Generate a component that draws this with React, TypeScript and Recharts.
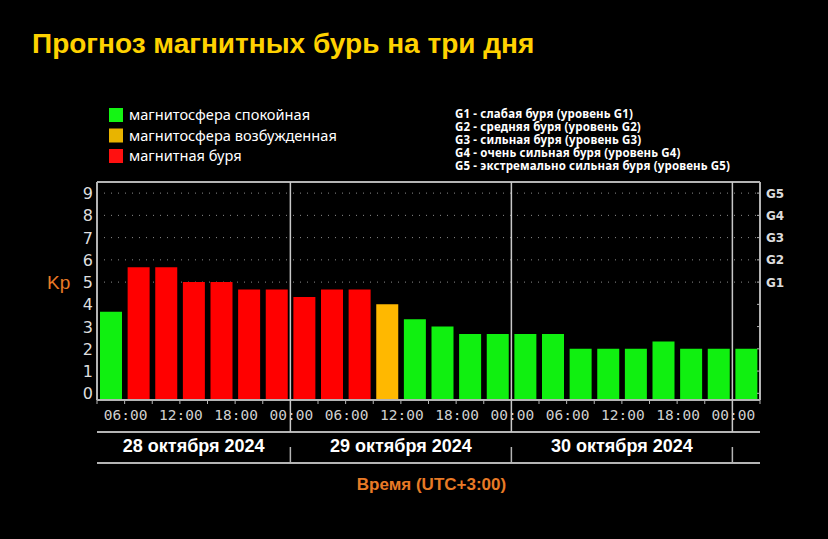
import React from "react";
import { Bar, BarChart, CartesianGrid, Cell, ReferenceLine, XAxis, YAxis } from "recharts";

// 3-hour slots, starting 28.10 03:00 (UTC+3)
const SLOTS = [
  "28.10 03:00", "28.10 06:00", "28.10 09:00", "28.10 12:00", "28.10 15:00", "28.10 18:00", "28.10 21:00",
  "29.10 00:00", "29.10 03:00", "29.10 06:00", "29.10 09:00", "29.10 12:00", "29.10 15:00", "29.10 18:00", "29.10 21:00",
  "30.10 00:00", "30.10 03:00", "30.10 06:00", "30.10 09:00", "30.10 12:00", "30.10 15:00", "30.10 18:00", "30.10 21:00",
  "31.10 00:00"
];
const KP = [
  3.67, 5.67, 5.67, 5.0, 5.0, 4.67, 4.67,
  4.33, 4.67, 4.67, 4.0, 3.33, 3.0, 2.67, 2.67,
  2.67, 2.67, 2.0, 2.0, 2.0, 2.33, 2.0, 2.0,
  2.0
];
const LEVEL = [
  "quiet", "storm", "storm", "storm", "storm", "storm", "storm",
  "storm", "storm", "storm", "active", "quiet", "quiet", "quiet", "quiet",
  "quiet", "quiet", "quiet", "quiet", "quiet", "quiet", "quiet", "quiet",
  "quiet"
];

const KP_TICKS = [0, 1, 2, 3, 4, 5, 6, 7, 8, 9];
const G_TICKS = [5, 6, 7, 8, 9];
const G_LABELS = ["G1", "G2", "G3", "G4", "G5"];

// slot boundaries (index = left edge of slot i) that carry a time label
const LABEL_TICKS = [1, 3, 5, 7, 9, 11, 13, 15, 17, 19, 21, 23];
const LABEL_TEXT = ["06:00", "12:00", "18:00", "00:00", "06:00", "12:00", "18:00", "00:00", "06:00", "12:00", "18:00", "00:00"];
const DAY_TICKS = [7, 15, 23];
const DAYS = ["28 октября 2024", "29 октября 2024", "30 октября 2024"];
const DAY_SPANS = [[0, 7], [7, 15], [15, 23]];

const LEGEND_STATES = ["магнитосфера спокойная", "магнитосфера возбужденная", "магнитная буря"];
const LEGEND_COLORS = ["#14f514", "#e8b400", "#ff1010"];
const G_LEGEND = [
  "G1 - слабая буря (уровень G1)",
  "G2 - средняя буря (уровень G2)",
  "G3 - сильная буря (уровень G3)",
  "G4 - очень сильная буря (уровень G4)",
  "G5 - экстремально сильная буря (уровень G5)"
];

const COLORS: Record<string, string> = { quiet: "#10f010", active: "#ffb800", storm: "#ff0000" };

const W = 828;
const H = 539;
const PLOT_W = 663;
const PLOT_H = 218;
const SLOT_W = PLOT_W / 24;
const KP_MIN = -0.3;
const FRAME = "#b4b4b4";

const rows = SLOTS.map((slot, i) => ({ slot, range: [KP_MIN, KP[i]], level: LEVEL[i] }));

function SlotTick({ x, y, payload }: any) {
  const i = SLOTS.indexOf(payload.value);
  const bx = x - SLOT_W / 2;
  const li = LABEL_TICKS.indexOf(i);
  const isDay = DAY_TICKS.includes(i);
  const di = DAY_SPANS.findIndex(s => s[0] === i);
  return (
    <g>
      {isDay ? (
        <>
          <line x1={bx} y1={y - PLOT_H} x2={bx} y2={y + 32} stroke="#c8c8c8" strokeWidth={1.5} />
          <line x1={bx} y1={y + 47} x2={bx} y2={y + 63} stroke={FRAME} strokeWidth={1.5} />
        </>
      ) : (
        <line x1={bx} y1={y} x2={bx} y2={y + 4} stroke={FRAME} />
      )}
      {i === SLOTS.length - 1 && <line x1={x + SLOT_W / 2} y1={y} x2={x + SLOT_W / 2} y2={y + 4} stroke={FRAME} />}
      {li >= 0 && (
        <text x={bx + 1} y={y + 20} textAnchor="middle" fill="#d0d0d0" fontSize={14.5} fontFamily="DejaVu Sans Mono">
          {LABEL_TEXT[li]}
        </text>
      )}
      {i === 0 && (
        <>
          <line x1={bx} y1={y + 32} x2={bx + PLOT_W} y2={y + 32} stroke={FRAME} strokeWidth={2} />
          <line x1={bx} y1={y + 63} x2={bx + PLOT_W} y2={y + 63} stroke={FRAME} strokeWidth={2} />
        </>
      )}
      {di >= 0 && (
        <text
          x={bx + ((DAY_SPANS[di][1] - DAY_SPANS[di][0]) * SLOT_W) / 2}
          y={y + 52}
          textAnchor="middle"
          fill="#ffffff"
          fontSize={18}
          fontWeight="bold"
          fontFamily="Liberation Sans, Arial, sans-serif"
        >
          {DAYS[di]}
        </text>
      )}
    </g>
  );
}

function KpTick({ x, y, payload }: any) {
  return (
    <text x={x - 4} y={y + 6} textAnchor="end" fill="#dedede" fontSize={16} fontFamily="DejaVu Sans">
      {payload.value}
    </text>
  );
}

function GTick({ x, y, payload }: any) {
  const gi = G_TICKS.indexOf(payload.value);
  return (
    <g>
      <line x1={x - 3} y1={y} x2={x} y2={y} stroke={FRAME} />
      {gi >= 0 && (
        <text x={x + 6} y={y + 4.5} fill="#dcdcdc" fontSize={12} fontWeight="bold" fontFamily="DejaVu Sans">
          {G_LABELS[gi]}
        </text>
      )}
    </g>
  );
}

export default function App() {
  return (
    <div style={{ position: "absolute", left: 0, top: 0, width: W, height: H, background: "#000" }}>
      <BarChart
        width={W}
        height={H}
        data={rows}
        margin={{ top: 182, right: 18, bottom: 109, left: 57 }}
        barSize={22}
      >
        <CartesianGrid
          yAxisId="kp"
          vertical={false}
          horizontalValues={G_TICKS}
          stroke="#8c8c8c"
          strokeDasharray="1 6"
        />
        <XAxis
          dataKey="slot"
          type="category"
          interval={0}
          height={30}
          tickSize={0}
          tickMargin={0}
          tickLine={false}
          axisLine={{ stroke: FRAME, strokeWidth: 2 }}
          tick={(p: any) => <SlotTick {...p} />}
          label={{
            content: ({ viewBox }: any) => (
              <text
                x={viewBox.x + viewBox.width / 2 + 3}
                y={490}
                textAnchor="middle"
                fill="#e87a26"
                fontSize={17}
                fontWeight="bold"
                fontFamily="Liberation Sans, Arial, sans-serif"
              >
                Время (UTC+3:00)
              </text>
            )
          }}
        />
        <YAxis
          yAxisId="kp"
          type="number"
          domain={[KP_MIN, 9.5]}
          ticks={KP_TICKS}
          interval={0}
          allowDataOverflow
          width={40}
          tickSize={0}
          tickMargin={0}
          tickLine={false}
          axisLine={{ stroke: FRAME, strokeWidth: 2 }}
          tick={(p: any) => <KpTick {...p} />}
          label={{
            content: ({ viewBox }: any) => (
              <text x={viewBox.x - 10} y={289} fill="#e87a26" fontSize={19} fontFamily="Liberation Sans, Arial, sans-serif">
                Kp
              </text>
            )
          }}
        />
        <YAxis
          yAxisId="g"
          orientation="right"
          type="number"
          domain={[KP_MIN, 9.5]}
          ticks={KP_TICKS}
          interval={0}
          allowDataOverflow
          width={50}
          tickSize={0}
          tickMargin={0}
          tickLine={false}
          axisLine={{ stroke: FRAME, strokeWidth: 2 }}
          tick={(p: any) => <GTick {...p} />}
        />
        <ReferenceLine yAxisId="kp" y={9.5} stroke={FRAME} strokeWidth={2} ifOverflow="visible" />
        <Bar yAxisId="kp" dataKey="range" isAnimationActive={false}>
          {rows.map((r, i) => (
            <Cell key={i} fill={COLORS[r.level]} />
          ))}
        </Bar>
      </BarChart>
      <svg width={W} height={H} style={{ position: "absolute", left: 0, top: 0, pointerEvents: "none" }}>
        <text x={32} y={53} fill="#ffd200" fontSize={28} fontWeight="bold" fontFamily="Liberation Sans, Arial, sans-serif">
          Прогноз магнитных бурь на три дня
        </text>
        {LEGEND_STATES.map((s, i) => (
          <g key={s}>
            <rect x={109} y={108 + i * 20.5} width={14} height={14} fill={LEGEND_COLORS[i]} />
            <text x={129} y={120 + i * 20.5} fill="#ffffff" fontSize={14.6} fontFamily="Noto Sans">
              {s}
            </text>
          </g>
        ))}
        {G_LEGEND.map((s, i) => (
          <text
            key={s}
            x={455}
            y={118 + i * 13}
            fill="#ffffff"
            fontSize={11.5}
            letterSpacing={0.15}
            fontWeight="bold"
            fontFamily="Noto Sans"
          >
            {s}
          </text>
        ))}
      </svg>
    </div>
  );
}
